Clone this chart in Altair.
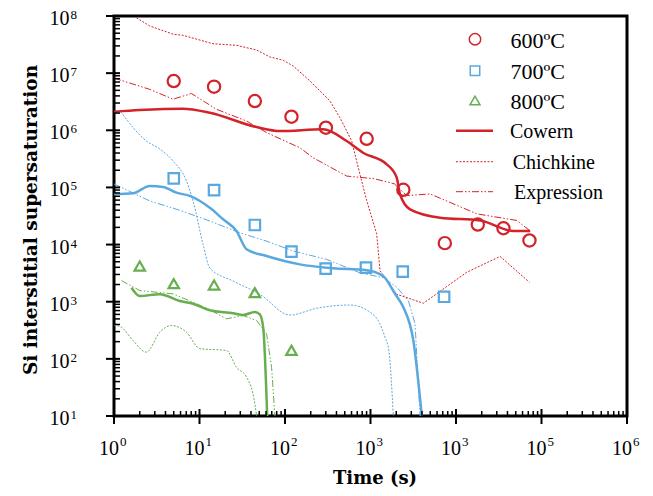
import altair as alt
import pandas as pd

# ---------------- data ----------------
# experimental points
t600 = [5.0, 14.8, 44.4, 119, 301, 902, 2421, 7400, 17990, 35890, 72300]
s600 = [7.27e6, 5.8e6, 3.25e6, 1.73e6, 1.11e6, 7.1e5, 9.1e4, 1.06e4, 2.24e4, 1.93e4, 1.18e4]
t700 = [5.0, 14.8, 44.4, 119, 299, 885, 2383, 7255]
s700 = [1.44e5, 9.0e4, 2.2e4, 7.5e3, 3.78e3, 3.94e3, 3.35e3, 1.22e3]
t800 = [2.0, 5.0, 14.8, 44.4, 119]
s800 = [4.2e3, 2.07e3, 1.96e3, 1.44e3, 141]

# model curves, 600 C
cow600_t = [1, 2.0, 6.37, 13.2, 46.5, 87.2, 278, 526, 817, 1549, 2027, 2215, 2903, 6512, 19140, 47000, 73800]
cow600_s = [2.11e6, 2.26e6, 2.39e6, 2.03e6, 1.14e6, 9.7e5, 1.04e6, 6.5e5, 4.05e5, 2.54e5, 1.48e5, 7.6e4, 4.14e4, 2.95e4, 2.64e4, 1.73e4, 1.73e4]
chi600_t = [1.83, 2.62, 4.91, 6.37, 14.4, 27.1, 46.5, 66.5, 95.3, 125, 196, 336, 439, 603, 720, 902, 1182, 1292, 2027, 4150, 13370, 32810, 72300]
chi600_s = [9.3e7, 6.7e7, 4.8e7, 4.6e7, 3.27e7, 3.07e7, 2.54e7, 1.92e7, 1.68e7, 1.33e7, 7.3e6, 3.25e6, 1.66e6, 6.5e5, 2.2e5, 5.9e4, 1.54e4, 3.5e3, 1.35e3, 9.4e2, 3.28e3, 6.2e3, 2.19e3]
exp600_t = [1, 2.62, 4.91, 8.06, 15.8, 35.5, 60.9, 149, 214, 526, 1107, 1897, 2654, 4977, 17530, 51500, 73800]
exp600_s = [8.2e6, 5.2e6, 3.5e6, 4.4e6, 2.33e6, 1.45e6, 9.1e5, 4.95e5, 3.3e5, 1.58e5, 1.42e5, 1.16e5, 7.2e4, 7.7e4, 3.45e4, 2.64e4, 1.73e4]

# model curves, 700 C
cow700_t = [1, 1.67, 2.62, 3.75, 5.38, 7.70, 13.2, 18.9, 27.1, 35.5, 60.9, 149, 367, 902, 1413, 1936, 2421, 3170, 3980]
cow700_s = [7.6e4, 7.9e4, 1.06e5, 1.02e5, 8.1e4, 7.1e4, 4.4e4, 2.77e4, 1.73e4, 8.3e3, 6.3e3, 4.5e3, 3.85e3, 3.55e3, 2.8e3, 1.37e3, 800, 209, 10]
chi700_t = [1.2, 2.39, 3.43, 4.91, 7.04, 8.41, 11.0, 13.2, 24.7, 50.8, 114, 234, 575, 1107, 1479, 1640, 1849]
chi700_s = [2.1e6, 6.5e5, 4.7e5, 2.9e5, 1.3e5, 5.8e4, 1.01e4, 3.9e3, 2.3e3, 1.35e3, 585, 767, 875, 574, 239, 140, 10]
exp700_t = [1, 2.62, 5.88, 13.2, 29.6, 60.9, 125, 307, 753, 1413, 2027, 2773, 3320, 3800]
exp700_s = [1.15e5, 5.8e4, 3.98e4, 2.58e4, 1.61e4, 1.15e4, 7.7e3, 5.5e3, 3.2e3, 2.63e3, 1.79e3, 1.05e3, 410, 10]

# model curves, 800 C
cow800_t = [1.60, 2.0, 3.43, 5.88, 8.41, 13.2, 24.7, 32.4, 44.4, 50.8, 55.6, 61.9]
cow800_s = [1.76e3, 1.26e3, 1.35e3, 1.03e3, 923, 708, 627, 585, 661, 602, 351, 10]
chi800_t = [1.0, 1.22, 1.67, 2.39, 3.43, 4.70, 7.04, 10.1, 20.7, 27.1, 35.5, 44.4, 46.5]
chi800_s = [390, 358, 209, 131, 292, 384, 292, 151, 140, 71, 48, 16.3, 10]
exp800_t = [1.22, 2.0, 4.91, 8.41, 13.2, 20.7, 32.4, 46.5, 60.9, 69.7, 76.2]
exp800_s = [2.35e3, 1.57e3, 1.37e3, 980, 721, 502, 574, 469, 274, 71, 10]

# axis ticks and labels
x_major = [1, 10, 100, 1000, 10000, 100000, 1000000]
x_exp = ["0", "1", "2", "3", "3", "5", "6"]
y_major = [10, 100, 1000, 10000, 100000, 1000000, 10000000, 100000000]
y_exp = ["1", "2", "3", "4", "5", "6", "7", "8"]
x_minor = [m * d for d in [1, 10, 100, 1000, 10000, 100000] for m in range(2, 10)]
y_minor = [m * d for d in [10, 100, 1000, 10000, 100000, 1000000, 10000000] for m in range(2, 10)]

RED = "#D2232A"
BLUE = "#5AA8E0"
GREEN = "#68AE4E"

W, H = 513, 400
xs = alt.Scale(type="log", domain=[1, 1e6])
ys = alt.Scale(type="log", domain=[10, 1e8])
SERIF = "Liberation Serif"
DASHDOT = [7, 2, 1.5, 2, 1.5, 2]
DOT = [2, 1.5]


def X(f="t"):
    return alt.X(f"{f}:Q", scale=xs, axis=None)


def Y(f="s"):
    return alt.Y(f"{f}:Q", scale=ys, axis=None)


layers = []

curves = [
    (cow600_t, cow600_s, RED, 2.5, None, "monotone"),
    (chi600_t, chi600_s, RED, 1, DOT, "linear"),
    (exp600_t, exp600_s, RED, 1, DASHDOT, "linear"),
    (cow700_t, cow700_s, BLUE, 2.5, None, "monotone"),
    (chi700_t, chi700_s, BLUE, 1, DOT, "monotone"),
    (exp700_t, exp700_s, BLUE, 1, DASHDOT, "linear"),
    (cow800_t, cow800_s, GREEN, 2.5, None, "monotone"),
    (chi800_t, chi800_s, GREEN, 1, DOT, "monotone"),
    (exp800_t, exp800_s, GREEN, 1, DASHDOT, "linear"),
]
for t, s, col, w, dash, interp in curves:
    df = pd.DataFrame({"t": t, "s": s})
    kw = dict(color=col, strokeWidth=w, interpolate=interp)
    if dash:
        kw["strokeDash"] = dash
    layers.append(alt.Chart(df).mark_line(**kw).encode(x=X(), y=Y(), order="t:Q"))

markers = [
    (t600, s600, RED, "circle", 150),
    (t700, s700, BLUE, "square", 110),
    (t800, s800, GREEN, "triangle-up", 110),
]
for t, s, col, shape, size in markers:
    df = pd.DataFrame({"t": t, "s": s})
    layers.append(
        alt.Chart(df).mark_point(shape=shape, size=size, color=col, filled=False,
                                 strokeWidth=2.2, opacity=1)
        .encode(x=X(), y=Y())
    )

# ---- axis ticks (through the scales) ----
xmaj = pd.DataFrame({"v": x_major, "e": x_exp})
xmin = pd.DataFrame({"v": x_minor})
ymaj = pd.DataFrame({"v": y_major, "e": y_exp})
ymin = pd.DataFrame({"v": y_minor})

layers.append(alt.Chart(xmaj).mark_rule(color="black", strokeWidth=2).encode(
    x=X("v"), y=alt.value(H - 7), y2=alt.value(H + 8)))
layers.append(alt.Chart(xmin).mark_rule(color="black", strokeWidth=1.5).encode(
    x=X("v"), y=alt.value(H - 5), y2=alt.value(H)))
layers.append(alt.Chart(ymaj).mark_rule(color="black", strokeWidth=2).encode(
    y=Y("v"), x=alt.value(-8), x2=alt.value(6)))
layers.append(alt.Chart(ymin).mark_rule(color="black", strokeWidth=1.5).encode(
    y=Y("v"), x=alt.value(0), x2=alt.value(6)))

# tick labels: "10" plus superscript exponent
layers.append(alt.Chart(xmaj).mark_text(
    text="10", font=SERIF, fontSize=20, align="right", baseline="alphabetic", dx=5, color="black"
).encode(x=X("v"), y=alt.value(H + 38.5)))
layers.append(alt.Chart(xmaj).mark_text(
    font=SERIF, fontSize=13, align="left", baseline="alphabetic", dx=6, color="black"
).encode(x=X("v"), y=alt.value(H + 29.5), text="e:N"))
layers.append(alt.Chart(ymaj).mark_text(
    text="10", font=SERIF, fontSize=20, align="right", baseline="middle", dy=3, color="black"
).encode(y=Y("v"), x=alt.value(-44.5)))
layers.append(alt.Chart(ymaj).mark_text(
    font=SERIF, fontSize=13, align="left", baseline="middle", dy=-1, color="black"
).encode(y=Y("v"), x=alt.value(-43.5), text="e:N"))

# axis titles
layers.append(alt.Chart(pd.DataFrame({"a": [0]})).mark_text(
    text="Time (s)", font="DejaVu Serif", fontWeight="bold", fontSize=18,
    align="center", baseline="alphabetic", color="black"
).encode(x=alt.value(261), y=alt.value(H + 67.5)))
layers.append(alt.Chart(pd.DataFrame({"a": [0]})).mark_text(
    text="Si interstitial supersaturation", font="DejaVu Serif", fontWeight="bold", fontSize=18.5,
    align="center", baseline="alphabetic", angle=270, color="black"
).encode(x=alt.value(-77), y=alt.value(204)))

# ---- legend (inside plot, top right) ----
one = pd.DataFrame({"a": [0]})
leg_sym = [("circle", RED, 130, 23.3), ("square", BLUE, 90, 54.7), ("triangle-up", GREEN, 100, 84.5)]
for shape, col, size, yy in leg_sym:
    layers.append(alt.Chart(one).mark_point(shape=shape, size=size, color=col, filled=False,
                                            strokeWidth=1.5, opacity=1)
                  .encode(x=alt.value(361), y=alt.value(yy)))
leg_temp = [("600ºC", 24.8), ("700ºC", 55.5), ("800ºC", 85.5)]
for txt, yy in leg_temp:
    layers.append(alt.Chart(one).mark_text(text=txt, font=SERIF, fontSize=22, align="left",
                                           baseline="middle", color="black")
                  .encode(x=alt.value(396.5), y=alt.value(yy)))
leg_lines = [
    ("Cowern", 2.5, None, 114.7, 396),
    ("Chichkine", 1, DOT, 145.7, 398.7),
    ("Expression", 1, DASHDOT, 175.7, 400),
]
for txt, w, dash, yy, tx in leg_lines:
    kw = dict(color=RED, strokeWidth=w)
    if dash:
        kw["strokeDash"] = dash
    layers.append(alt.Chart(one).mark_rule(**kw).encode(
        x=alt.value(342), x2=alt.value(379), y=alt.value(yy)))
    layers.append(alt.Chart(one).mark_text(text=txt, font=SERIF, fontSize=20, align="left",
                                           baseline="middle", color="black")
                  .encode(x=alt.value(tx), y=alt.value(yy + 1)))

chart = alt.layer(*layers).properties(
    width=W, height=H,
    padding={"left": 106, "top": 8, "right": 18, "bottom": 72},
    autosize=alt.AutoSizeParams(type="none"),
    background="white",
).configure_view(stroke="black", strokeWidth=3)

chart.save("out.html", embed_options={"renderer": "svg", "actions": False})
